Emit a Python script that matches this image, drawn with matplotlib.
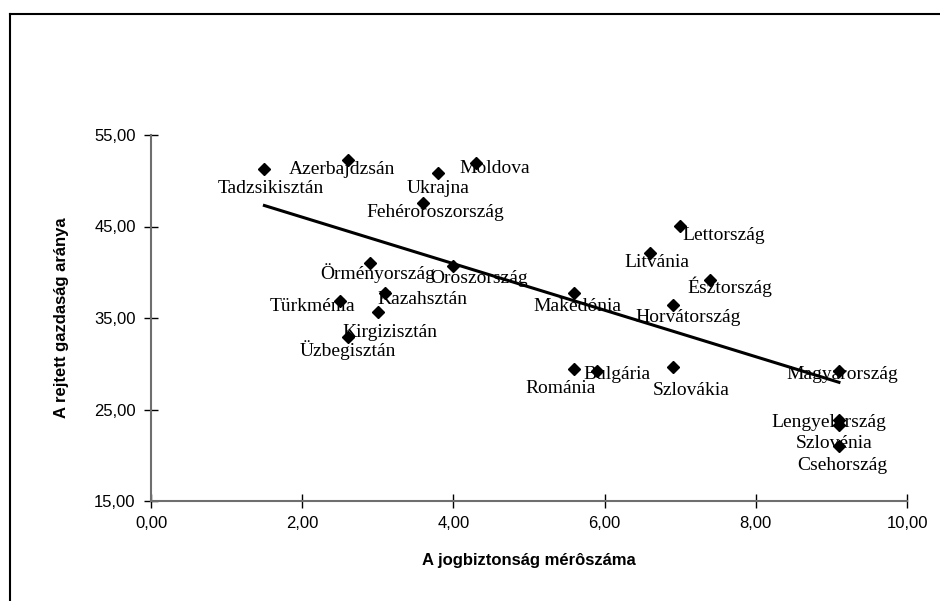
import numpy as np
import matplotlib
matplotlib.use("Agg")
import matplotlib.pyplot as plt
from matplotlib.lines import Line2D

# adatok: jogbiztonság mérőszáma (x), rejtett gazdaság aránya (y)
orszagok = ["Tadzsikisztán", "Azerbajdzsán", "Ukrajna", "Moldova", "Fehéroroszország",
            "Örményország", "Oroszország", "Kazahsztán", "Türkménia", "Kirgizisztán",
            "Üzbegisztán", "Lettország", "Litvánia", "Észtország", "Makedónia",
            "Horvátország", "Románia", "Bulgária", "Szlovákia", "Magyarország",
            "Lengyelország", "Szlovénia", "Csehország"]
jog = [1.5, 2.6, 3.8, 4.3, 3.6,
       2.9, 4.0, 3.1, 2.5, 3.0,
       2.6, 7.0, 6.6, 7.4, 5.6,
       6.9, 5.6, 5.9, 6.9, 9.1,
       9.1, 9.1, 9.1]
rejtett = [51.3, 52.3, 50.8, 51.9, 47.6,
           41.0, 40.7, 37.7, 36.9, 35.7,
           32.9, 45.1, 42.1, 39.1, 37.7,
           36.4, 29.4, 29.2, 29.6, 29.2,
           23.9, 23.3, 21.0]
# cimke eltolas pixelben (dx, dy lefele)
eltolas = [(6, 20), (-6, 10), (0, 15), (19, 5), (12, 10),
           (7, 10), (26, 13), (37, 6), (-28, 6), (12, 21),
           (0, 13), (44, 10), (7, 9), (19, 6), (3, 13),
           (15, 12), (-14, 19), (20, 3), (19, 23), (3, 3),
           (-10, 3), (-5, 18), (3, 19)]

fig = plt.figure(figsize=(9.4, 6.01), dpi=100)
ax = fig.add_axes([151/940, 1-501/601, (907-151)/940, (501-135)/601])

ax.plot(jog, rejtett, 'D', color='black', markersize=6.5, zorder=3)

# linearis trendvonal
m, b = np.polyfit(jog, rejtett, 1)
xt = np.array([min(jog), max(jog)])
ax.plot(xt, m*xt+b, color='black', linewidth=2.2, zorder=2)

for nev, x, y, (dx, dy) in zip(orszagok, jog, rejtett, eltolas):
    ax.annotate(nev, (x, y), xytext=(dx, -dy), textcoords='offset pixels',
                ha='center', va='center', fontsize=14, family='Liberation Serif')

ax.set_xlim(0, 10)
ax.set_ylim(15, 55)
xt_ = np.arange(0, 10.1, 2)
yt_ = np.arange(15, 55.1, 10)
ax.set_xticks(xt_)
ax.set_yticks(yt_)
ax.set_xticklabels([("%.2f" % v).replace('.', ',') for v in xt_])
ax.set_yticklabels([("%.2f" % v).replace('.', ',') for v in yt_])
for s in ['top', 'right']:
    ax.spines[s].set_visible(False)
for s in ['left', 'bottom']:
    ax.spines[s].set_color('#6e6e6e')
    ax.spines[s].set_linewidth(1.5)
ax.tick_params(direction='inout', length=10, width=1, color='black',
               labelsize=12, pad=6)
for lab in ax.get_xticklabels() + ax.get_yticklabels():
    lab.set_family('Liberation Sans')

ax.set_xlabel("A jogbiztonság mérôszáma", fontsize=12, fontweight='bold',
              family='Liberation Sans', labelpad=16)
ax.set_ylabel("A rejtett gazdaság aránya", fontsize=12, fontweight='bold',
              family='Liberation Sans', labelpad=18)

# diagram keret (bal es felso szel)
fig.add_artist(Line2D([9.5/940, 9.5/940], [0, 1-14/601], color='black', linewidth=1.5))
fig.add_artist(Line2D([9.5/940, 1], [1-14/601, 1-14/601], color='black', linewidth=1.5))

fig.savefig("out.png", dpi=100)
